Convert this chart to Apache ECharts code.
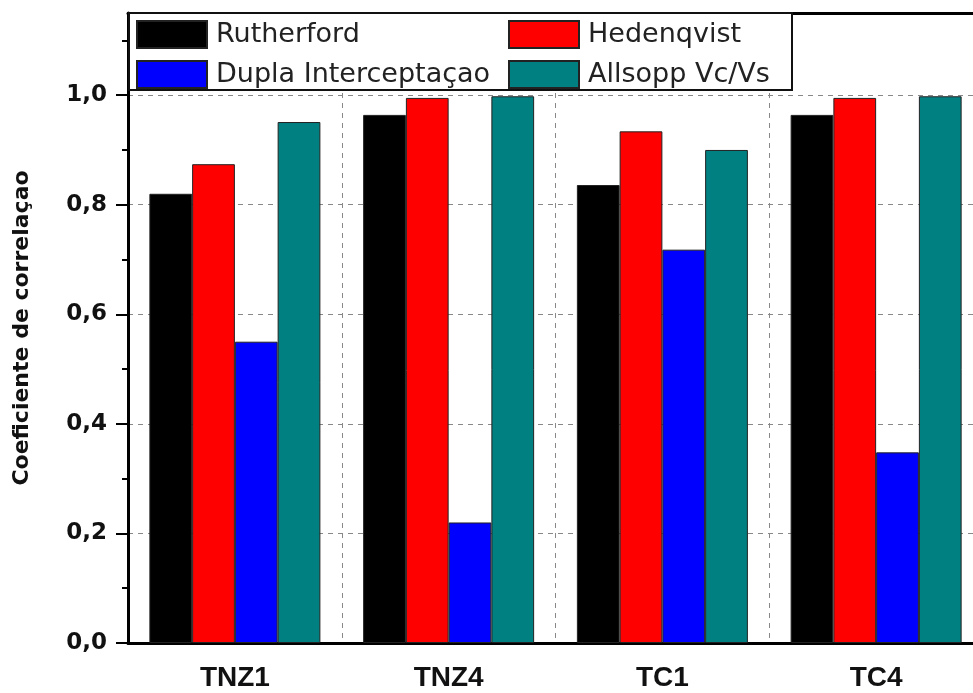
<!DOCTYPE html>
<html>
<head>
<meta charset="utf-8">
<script src="https://cdn.jsdelivr.net/npm/echarts@6/dist/echarts.min.js"></script>
<style>
  html, body { margin: 0; padding: 0; background: #fff; overflow: hidden; }
  /* the chart is wider than the window: its right edge is cut off like in the picture */
  #chart { width: 1000px; height: 693px; }
</style>
</head>
<body>
<div id="chart"></div>
<script>
// categorias (amostras)
const amostras = ['TNZ1', 'TNZ4', 'TC1', 'TC4'];

// coeficiente de correlação por método
const rutherford = [0.820, 0.964, 0.836, 0.964];
const hedenqvist = [0.874, 0.995, 0.934, 0.995];
const duplaInterceptacao = [0.550, 0.220, 0.718, 0.348];
const allsopp = [0.951, 0.998, 0.900, 0.998];

const yMajorTicks = [0, 0.2, 0.4, 0.6, 0.8, 1.0];
const yMinorTicks = [0.1, 0.3, 0.5, 0.7, 0.9, 1.1];

const chart = echarts.init(document.getElementById('chart'));

const legendText = {
  fontFamily: 'DejaVu Sans',
  fontSize: 27,
  lineHeight: 27,
  color: '#222',
  padding: [0, 0, 0, 4]
};

function barSeries(name, data, color) {
  return {
    name: name,
    type: 'bar',
    data: data,
    barGap: '0%',
    barCategoryGap: '20%',
    itemStyle: { color: color, borderColor: '#222', borderWidth: 1 }
  };
}

const option = {
  backgroundColor: '#fff',
  animation: false,
  grid: { left: 128, right: 17, top: 13, bottom: 50 },
  graphic: [{
    type: 'rect',
    z: 1,
    shape: { x: 129, y: 13, width: 663, height: 77 },
    style: { fill: '#fff', stroke: '#111', lineWidth: 2 }
  }],
  legend: [
    {
      data: ['Rutherford', 'Dupla Interceptaçao'],
      orient: 'vertical',
      left: 136, top: 20, padding: 0,
      itemWidth: 70, itemHeight: 27, itemGap: 11,
      icon: 'rect', z: 3,
      textStyle: legendText
    },
    {
      data: ['Hedenqvist', 'Allsopp Vc/Vs'],
      orient: 'vertical',
      left: 508, top: 20, padding: 0,
      itemWidth: 70, itemHeight: 27, itemGap: 11,
      icon: 'rect', z: 3,
      textStyle: legendText
    }
  ],
  xAxis: [
    {
      type: 'category',
      data: amostras,
      position: 'bottom',
      axisLine: { lineStyle: { color: '#000', width: 3 } },
      axisTick: { alignWithLabel: true, length: 12, lineStyle: { color: '#000', width: 2 } },
      axisLabel: {
        fontFamily: 'Liberation Sans', fontWeight: 'bold', fontSize: 28,
        color: '#111', margin: 21
      },
      splitLine: { show: false }
    },
    {
      type: 'category',
      data: amostras,
      position: 'bottom',
      axisLine: { show: false },
      axisTick: { length: 7, lineStyle: { color: '#000', width: 2 } },
      axisLabel: { show: false },
      splitLine: { show: true, lineStyle: { color: '#888', type: [5, 5], width: 1 } }
    },
    {
      type: 'category',
      data: amostras,
      position: 'top',
      axisLine: { lineStyle: { color: '#000', width: 3 } },
      axisTick: { show: false },
      axisLabel: { show: false }
    }
  ],
  yAxis: [
    {
      type: 'value',
      min: 0, max: 1.15, interval: 0.2,
      name: 'Coeficiente de correlaçao',
      nameLocation: 'middle',
      nameGap: 95,
      nameTextStyle: { fontFamily: 'DejaVu Sans', fontWeight: 'bold', fontSize: 22, color: '#111' },
      axisLine: { show: true, lineStyle: { color: '#000', width: 3 } },
      axisTick: { show: true, length: 12, customValues: yMajorTicks, lineStyle: { color: '#000', width: 2 } },
      axisLabel: {
        customValues: yMajorTicks,
        margin: 21,
        fontFamily: 'DejaVu Sans', fontWeight: 'bold', fontSize: 23, color: '#111',
        formatter: v => v.toFixed(1).replace('.', ',')
      },
      splitLine: { show: true, lineStyle: { color: '#888', type: [5, 5], width: 1 } }
    },
    {
      type: 'value',
      min: 0, max: 1.15,
      position: 'left',
      axisLine: { show: false },
      axisTick: { show: true, length: 6, customValues: yMinorTicks, lineStyle: { color: '#000', width: 2 } },
      axisLabel: { show: false },
      splitLine: { show: false }
    }
  ],
  series: [
    barSeries('Rutherford', rutherford, '#000000'),
    barSeries('Hedenqvist', hedenqvist, '#ff0000'),
    barSeries('Dupla Interceptaçao', duplaInterceptacao, '#0000ff'),
    barSeries('Allsopp Vc/Vs', allsopp, '#008080')
  ]
};

chart.setOption(option);
</script>
</body>
</html>
